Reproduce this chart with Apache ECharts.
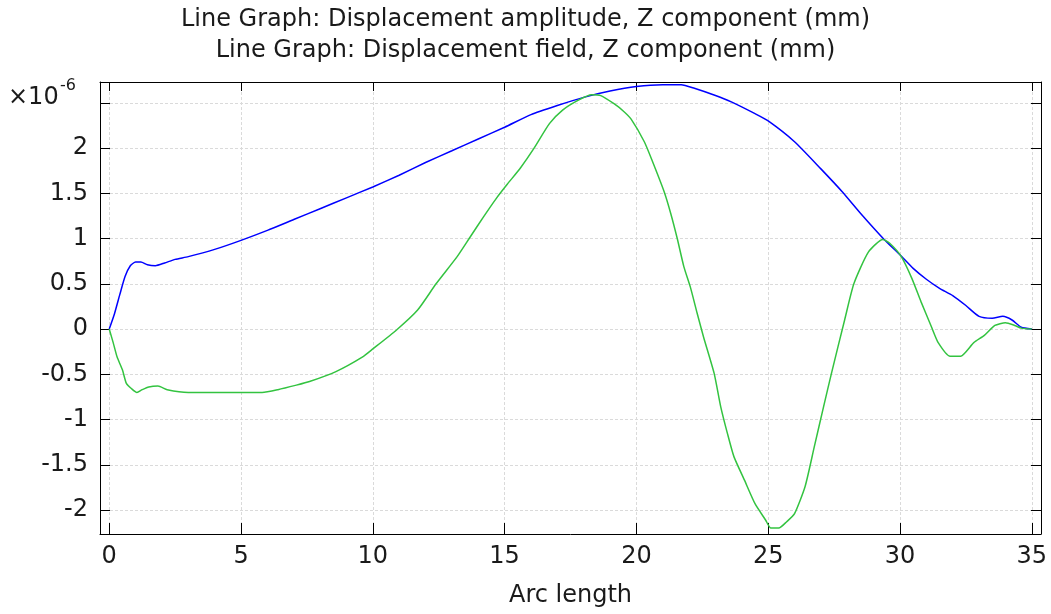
<!DOCTYPE html>
<html>
<head>
<meta charset="utf-8">
<script src="https://cdn.jsdelivr.net/npm/echarts@6/dist/echarts.min.js"></script>
<style>
  html, body { margin: 0; padding: 0; background: #ffffff; }
  #chart { width: 1051px; height: 614px; }
</style>
</head>
<body>
<div id="chart"></div>
<script>
// Titles and axis text
const titleLines = [
  'Line Graph: Displacement amplitude, Z component (mm)',
  'Line Graph: Displacement field, Z component (mm)'
];
const xAxisTitle = 'Arc length';
const yScaleBase = '\u00d710';
const yScaleExp = '-6';

// Tick positions
const xTicks = [0, 5, 10, 15, 20, 25, 30, 35];
const yTicks = [-2, -1.5, -1, -0.5, 0, 0.5, 1, 1.5, 2, 2.5];
const yLabels = [-2, -1.5, -1, -0.5, 0, 0.5, 1, 1.5, 2];

// Displacement amplitude, Z component (units of 1e-6 mm)
const ampArc = [0, 0.2, 0.4, 0.6, 0.8, 1.0, 1.2, 1.45, 1.75, 2.1, 2.5, 3, 4, 5, 6, 7, 8, 9, 10,
  11, 12, 13, 14, 15, 16, 17, 18, 19, 20, 21, 21.7, 22.2, 23, 23.6, 24.5, 25, 26, 27, 27.8,
  28.5, 29.4, 30, 30.5, 31, 31.5, 32, 32.5, 33, 33.5, 33.9, 34.25, 34.6, 35];
const ampVal = [0, 0.17, 0.38, 0.58, 0.70, 0.74, 0.74, 0.71, 0.70, 0.73, 0.77, 0.80, 0.88, 0.98,
  1.09, 1.21, 1.33, 1.45, 1.57, 1.70, 1.84, 1.97, 2.10, 2.23, 2.37, 2.47, 2.56, 2.63, 2.68, 2.70,
  2.70, 2.66, 2.58, 2.51, 2.38, 2.30, 2.07, 1.77, 1.52, 1.28, 0.99, 0.82, 0.67, 0.55, 0.45, 0.37,
  0.26, 0.14, 0.12, 0.14, 0.10, 0.02, 0];

// Displacement field, Z component (units of 1e-6 mm)
const fieldArc = [0, 0.15, 0.3, 0.5, 0.65, 0.85, 1.05, 1.25, 1.5, 1.85, 2.2, 3, 4, 5, 5.8, 6.4,
  7.1, 7.6, 8.6, 9.6, 10, 10.9, 11.7, 12.4, 13.2, 13.7, 14.2, 14.7, 15.1, 15.6, 16.1, 16.7, 17.2,
  17.8, 18.3, 18.65, 19.15, 19.5, 19.8, 20.3, 20.6, 21.05, 21.3, 21.55, 21.8, 22.05, 22.3, 22.55,
  22.95, 23.2, 23.45, 23.7, 24.1, 24.5, 24.9, 25.1, 25.4, 25.7, 26.0, 26.4, 26.75, 27.1, 27.4,
  27.9, 28.25, 28.8, 29.35, 29.6, 30.05, 30.45, 30.8, 31.2, 31.45, 31.9, 32.3, 32.8, 33.2, 33.6,
  34.0, 34.35, 34.6, 35];
const fieldVal = [0, -0.15, -0.31, -0.45, -0.60, -0.66, -0.70, -0.67, -0.64, -0.63, -0.67, -0.70,
  -0.70, -0.70, -0.70, -0.67, -0.62, -0.58, -0.47, -0.31, -0.22, -0.01, 0.21, 0.50, 0.80, 1.02,
  1.24, 1.45, 1.60, 1.78, 1.99, 2.27, 2.42, 2.53, 2.59, 2.58, 2.49, 2.41, 2.32, 2.07, 1.86, 1.52,
  1.28, 1.0, 0.69, 0.46, 0.18, -0.09, -0.49, -0.86, -1.15, -1.41, -1.67, -1.93, -2.11, -2.20,
  -2.20, -2.13, -2.04, -1.74, -1.30, -0.86, -0.49, 0.10, 0.50, 0.85, 0.99, 0.95, 0.80, 0.56, 0.30,
  0.02, -0.15, -0.30, -0.30, -0.15, -0.07, 0.04, 0.07, 0.04, 0.01, 0];

const FONT = 'DejaVu Sans';
const FS = 24;
const TEXT = '#1a1a1a';
const AXIS = '#000000';

const pairs = (xs, ys) => xs.map((x, i) => [x, ys[i]]);

const gridLine = { show: true, lineStyle: { color: '#dadada', width: 1, type: [3, 2] } };
const frameLine = { show: true, onZero: false, lineStyle: { color: AXIS, width: 1 } };

const chart = echarts.init(document.getElementById('chart'), null, { renderer: 'canvas' });

chart.setOption({
  animation: false,
  backgroundColor: '#ffffff',
  textStyle: { fontFamily: FONT },
  title: {
    text: titleLines.join('\n'),
    left: 'center',
    top: 4,
    padding: 0,
    textStyle: { fontFamily: FONT, fontSize: FS, fontWeight: 'normal', color: TEXT, lineHeight: 31 }
  },
  graphic: [
    { type: 'text', left: 8, top: 86, style: { text: yScaleBase, font: FS + 'px "DejaVu Sans"', fill: TEXT } },
    { type: 'text', left: 60, top: 78, style: { text: yScaleExp, font: '16px "DejaVu Sans"', fill: TEXT } }
  ],
  grid: { left: 100, top: 82, width: 941, height: 452, containLabel: false },
  xAxis: [
    {
      type: 'value', position: 'bottom', min: -0.35, max: 35.35,
      axisLine: frameLine,
      axisTick: { show: true, inside: true, length: 11, customValues: xTicks, lineStyle: { color: AXIS } },
      axisLabel: { customValues: xTicks, fontFamily: FONT, fontSize: FS, color: TEXT, margin: 11 },
      splitLine: gridLine,
      name: xAxisTitle, nameLocation: 'middle', nameGap: 50,
      nameTextStyle: { fontFamily: FONT, fontSize: FS, color: TEXT }
    },
    {
      type: 'value', position: 'top', min: -0.35, max: 35.35,
      axisLine: frameLine,
      axisTick: { show: true, inside: true, length: 9, customValues: xTicks, lineStyle: { color: AXIS } },
      axisLabel: { show: false },
      splitLine: { show: false }
    }
  ],
  yAxis: [
    {
      type: 'value', position: 'left', min: -2.265, max: 2.73,
      axisLine: frameLine,
      axisTick: { show: true, inside: true, length: 10, customValues: yTicks, lineStyle: { color: AXIS } },
      axisLabel: { customValues: yLabels, fontFamily: FONT, fontSize: FS, color: TEXT, margin: 12 },
      splitLine: gridLine
    },
    {
      type: 'value', position: 'right', min: -2.265, max: 2.73,
      axisLine: frameLine,
      axisTick: { show: true, inside: true, length: 10, customValues: yTicks, lineStyle: { color: AXIS } },
      axisLabel: { show: false },
      splitLine: { show: false }
    }
  ],
  series: [
    {
      name: 'Displacement amplitude, Z component', type: 'line',
      xAxisIndex: 0, yAxisIndex: 0,
      data: pairs(ampArc, ampVal),
      showSymbol: false, smooth: 0.2,
      lineStyle: { color: '#0000ff', width: 1.5 }
    },
    {
      name: 'Displacement field, Z component', type: 'line',
      xAxisIndex: 0, yAxisIndex: 0,
      data: pairs(fieldArc, fieldVal),
      showSymbol: false, smooth: 0.2,
      lineStyle: { color: '#33c340', width: 1.5 }
    }
  ]
});
</script>
</body>
</html>
